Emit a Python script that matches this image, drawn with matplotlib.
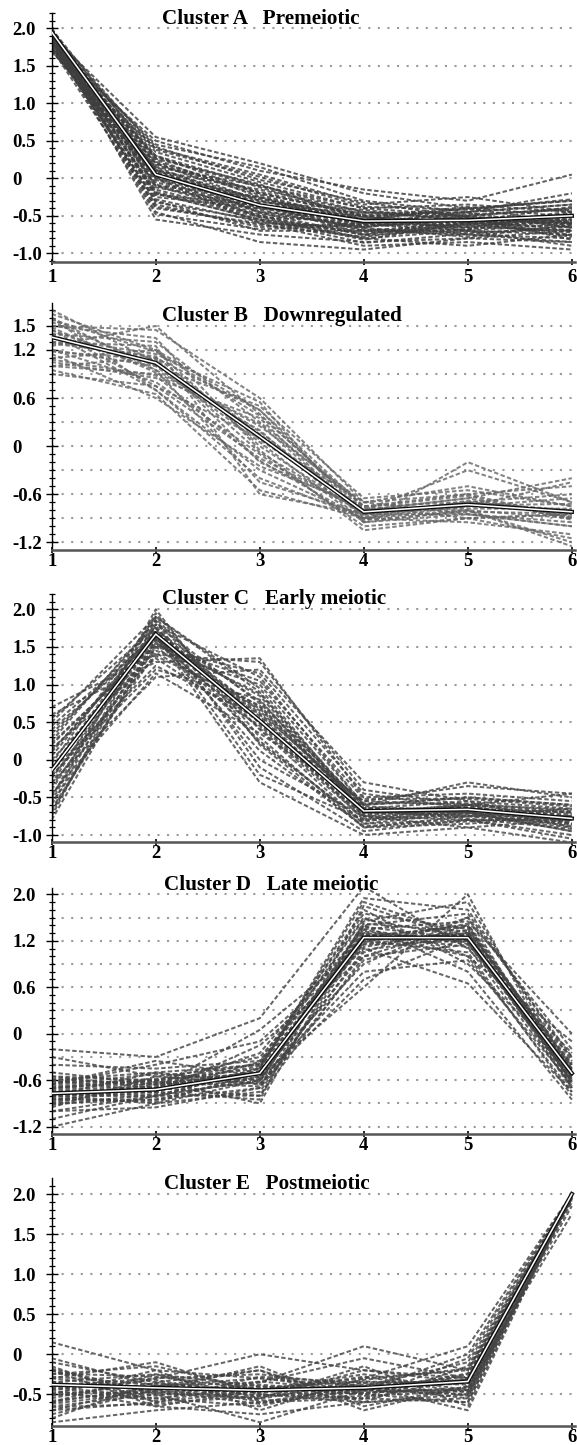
import matplotlib
matplotlib.use("Agg")
import matplotlib.pyplot as plt
from matplotlib.ticker import FixedLocator, FixedFormatter, MultipleLocator

plt.rcParams["font.family"] = ["Liberation Serif", "DejaVu Serif"]
plt.rcParams["font.weight"] = "bold"

# time points (x axis)
stages = [1, 2, 3, 4, 5, 6]

# ---- Cluster A  Premeiotic : individual gene profiles + cluster mean ----
profiles_A = [
    [1.95, 0.30, -0.10, -0.45, -0.50, -0.40],
    [1.90, 0.10, -0.30, -0.60, -0.55, -0.60],
    [1.85, -0.20, -0.55, -0.70, -0.65, -0.70],
    [1.80, 0.45, 0.15, -0.30, -0.45, -0.35],
    [2.00, -0.10, -0.50, -0.80, -0.70, -0.75],
    [1.75, 0.20, -0.20, -0.50, -0.60, -0.55],
    [1.95, -0.40, -0.60, -0.65, -0.55, -0.50],
    [1.70, 0.05, -0.45, -0.55, -0.40, -0.30],
    [1.88, 0.35, -0.05, -0.40, -0.35, -0.45],
    [1.92, -0.55, -0.75, -0.85, -0.80, -0.85],
    [1.80, 0.15, -0.35, -0.75, -0.60, -0.65],
    [1.98, -0.25, -0.40, -0.50, -0.70, -0.60],
    [1.72, 0.50, 0.10, -0.15, -0.30, 0.05],
    [1.85, 0.00, -0.60, -0.90, -0.85, -0.95],
    [1.90, 0.25, -0.25, -0.60, -0.45, -0.20],
    [1.78, -0.30, -0.70, -0.70, -0.75, -0.80],
    [1.96, 0.10, -0.15, -0.45, -0.55, -0.70],
    [1.82, -0.05, -0.45, -0.65, -0.50, -0.40],
    [1.68, 0.40, 0.05, -0.35, -0.25, -0.45],
    [1.94, -0.45, -0.85, -0.95, -0.80, -0.70],
    [1.86, 0.20, -0.30, -0.55, -0.65, -0.50],
    [1.76, -0.15, -0.50, -0.75, -0.55, -0.60],
    [1.90, 0.55, 0.20, -0.20, -0.40, -0.30],
    [1.84, -0.35, -0.65, -0.60, -0.70, -0.90],
    [1.99, 0.00, -0.35, -0.70, -0.60, -0.55],
    [1.74, 0.15, -0.10, -0.40, -0.50, -0.65],
    [1.88, -0.20, -0.55, -0.80, -0.90, -0.75],
    [1.80, 0.30, -0.20, -0.50, -0.45, -0.35],
    [1.93, 0.05, -0.40, -0.60, -0.75, -0.85],
    [1.79, -0.10, -0.25, -0.55, -0.40, -0.60],
    [1.87, 0.12, -0.28, -0.52, -0.58, -0.48],
    [1.83, -0.08, -0.48, -0.62, -0.62, -0.58],
    [1.91, 0.22, -0.18, -0.48, -0.52, -0.62],
    [1.77, -0.28, -0.58, -0.72, -0.68, -0.52],
    [1.95, 0.38, 0.02, -0.38, -0.42, -0.28],
    [1.81, -0.02, -0.42, -0.68, -0.72, -0.68],
    [1.89, 0.18, -0.22, -0.58, -0.48, -0.42],
    [1.73, -0.38, -0.62, -0.78, -0.62, -0.72],
    [1.97, 0.08, -0.32, -0.42, -0.58, -0.78],
    [1.85, -0.18, -0.52, -0.58, -0.66, -0.46],
    [1.79, 0.28, -0.12, -0.52, -0.38, -0.52],
    [1.93, -0.12, -0.38, -0.66, -0.78, -0.62],
    [1.71, 0.02, -0.52, -0.82, -0.58, -0.38],
    [1.87, 0.42, -0.02, -0.32, -0.52, -0.58],
    [1.83, -0.48, -0.68, -0.62, -0.52, -0.82],
    [1.91, 0.12, -0.46, -0.76, -0.68, -0.56],
    [1.75, -0.22, -0.36, -0.46, -0.46, -0.66],
    [1.99, 0.26, -0.08, -0.56, -0.62, -0.44],
    [1.81, 0.04, -0.26, -0.64, -0.54, -0.76],
    [1.89, -0.32, -0.56, -0.86, -0.74, -0.64],
]
mean_A = [1.95, 0.05, -0.36, -0.57, -0.56, -0.50]

# ---- Cluster B  Downregulated ----
profiles_B = [
    [1.65, 1.20, 0.45, -0.85, -0.75, -0.80],
    [1.50, 1.45, 0.60, -0.70, -0.60, -0.90],
    [1.00, 0.90, 0.20, -0.95, -0.85, -1.00],
    [1.30, 1.10, -0.20, -0.80, -0.30, -0.70],
    [0.95, 0.65, -0.55, -0.90, -0.80, -1.25],
    [1.40, 1.30, 0.30, -0.75, -0.70, -0.60],
    [1.20, 0.80, -0.10, -1.00, -0.90, -0.85],
    [1.55, 1.00, 0.50, -0.65, -0.55, -0.75],
    [1.10, 1.20, 0.00, -0.85, -0.75, -0.45],
    [1.60, 0.70, -0.30, -0.90, -0.95, -1.10],
    [1.25, 1.50, 0.40, -0.80, -0.65, -0.90],
    [1.45, 0.95, -0.45, -0.85, -0.70, -0.80],
    [0.90, 0.75, 0.10, -0.70, -0.85, -0.95],
    [1.35, 1.15, 0.55, -0.95, -0.20, -0.70],
    [1.70, 1.05, 0.15, -0.80, -0.80, -1.20],
    [1.15, 0.60, -0.25, -0.75, -0.60, -0.50],
    [1.50, 1.35, -0.05, -1.05, -0.90, -0.85],
    [1.05, 0.85, 0.35, -0.90, -0.75, -0.65],
    [1.30, 1.25, -0.60, -0.85, -0.85, -1.00],
    [1.60, 0.95, 0.25, -0.70, -0.50, -0.75],
    [1.20, 1.00, 0.05, -0.95, -0.80, -0.90],
    [1.45, 0.75, -0.15, -0.80, -0.65, -0.40],
    [1.00, 1.10, 0.45, -0.75, -0.90, -1.15],
    [1.40, 0.70, -0.40, -0.90, -0.70, -0.85],
    [1.38, 1.02, 0.18, -0.82, -0.72, -0.82],
    [1.28, 1.12, 0.08, -0.78, -0.78, -0.78],
    [1.48, 0.92, 0.28, -0.88, -0.68, -0.88],
    [1.18, 1.08, -0.08, -0.84, -0.74, -0.72],
    [1.58, 1.18, 0.38, -0.76, -0.62, -0.92],
    [1.08, 0.88, -0.18, -0.92, -0.82, -0.84],
]
mean_B = [1.36, 1.04, 0.12, -0.82, -0.73, -0.82]

# ---- Cluster C  Early meiotic ----
profiles_C = [
    [-0.80, 1.60, 0.60, -0.70, -0.70, -0.80],
    [0.70, 1.40, 1.30, -0.40, -0.60, -0.70],
    [-0.50, 2.00, 0.20, -0.90, -0.75, -0.90],
    [0.30, 1.80, 1.10, -0.60, -0.50, -0.60],
    [-0.20, 1.20, 0.80, -0.75, -0.80, -1.00],
    [0.10, 1.70, -0.20, -0.80, -0.60, -0.75],
    [-0.65, 1.50, 0.50, -0.55, -0.35, -0.45],
    [0.50, 1.90, 0.90, -0.70, -0.70, -0.85],
    [-0.30, 1.10, 1.20, -0.30, -0.55, -0.65],
    [-0.10, 1.65, -0.30, -1.00, -0.90, -1.10],
    [0.20, 1.55, 0.70, -0.65, -0.65, -0.70],
    [-0.75, 1.85, 0.40, -0.85, -0.80, -0.80],
    [0.60, 1.30, 1.35, -0.50, -0.45, -0.55],
    [-0.40, 1.75, 0.00, -0.75, -0.70, -0.95],
    [0.00, 1.45, 1.00, -0.60, -0.30, -0.50],
    [-0.55, 1.95, 0.30, -0.90, -0.85, -0.75],
    [0.40, 1.60, 0.85, -0.70, -0.60, -0.90],
    [-0.15, 1.25, 0.55, -0.80, -0.75, -0.65],
    [-0.70, 1.70, 0.65, -0.65, -0.55, -0.85],
    [0.25, 1.85, -0.10, -0.95, -0.80, -1.05],
    [-0.35, 1.50, 1.15, -0.45, -0.65, -0.70],
    [0.15, 1.35, 0.45, -0.75, -0.90, -0.80],
    [-0.60, 1.80, 0.75, -0.60, -0.50, -0.60],
    [0.45, 1.65, 0.25, -0.85, -0.70, -0.95],
    [-0.05, 1.90, 0.95, -0.70, -0.75, -0.75],
    [-0.45, 1.15, 0.35, -0.55, -0.60, -0.45],
    [-0.25, 1.62, 0.58, -0.72, -0.62, -0.82],
    [0.05, 1.72, 0.78, -0.62, -0.68, -0.72],
    [-0.48, 1.58, 0.42, -0.78, -0.72, -0.88],
    [0.35, 1.68, 0.62, -0.58, -0.58, -0.68],
    [-0.12, 1.78, 0.22, -0.82, -0.66, -0.78],
    [-0.58, 1.42, 0.68, -0.66, -0.78, -0.92],
    [0.22, 1.52, 1.05, -0.52, -0.52, -0.62],
    [-0.32, 1.88, 0.48, -0.74, -0.64, -0.84],
    [0.12, 1.62, 0.12, -0.88, -0.82, -0.74],
    [-0.68, 1.55, 0.88, -0.64, -0.70, -0.80],
    [0.55, 1.75, 0.52, -0.70, -0.60, -0.66],
    [-0.22, 1.38, 0.72, -0.68, -0.74, -0.86],
]
mean_C = [-0.14, 1.67, 0.52, -0.68, -0.66, -0.78]

# ---- Cluster D  Late meiotic ----
profiles_D = [
    [-1.20, -0.90, -0.60, 1.30, 1.20, -0.60],
    [-0.20, -0.30, 0.20, 1.90, 1.10, -0.30],
    [-0.80, -0.70, -0.80, 1.00, 1.40, -0.50],
    [-0.60, -0.50, -0.40, 1.50, 1.00, -0.10],
    [-0.90, -0.85, -0.55, 0.60, 1.80, -0.70],
    [-0.70, -0.60, -0.30, 1.20, 1.30, -0.40],
    [-1.00, -0.95, -0.70, 1.40, 0.80, -0.85],
    [-0.50, -0.65, -0.50, 0.90, 1.50, -0.20],
    [-0.85, -0.75, -0.85, 1.65, 1.20, -0.55],
    [-0.65, -0.40, -0.10, 1.10, 0.65, -0.75],
    [-0.75, -0.80, -0.45, 1.75, 1.60, -0.35],
    [-0.95, -0.55, -0.65, 0.70, 1.25, -0.60],
    [-0.55, -0.70, -0.25, 1.35, 1.45, 0.00],
    [-0.80, -0.90, -0.75, 1.20, 1.05, -0.80],
    [-0.40, -0.45, -0.35, 1.55, 1.35, -0.45],
    [-1.10, -0.80, -0.60, 0.80, 0.95, -0.65],
    [-0.70, -0.60, -0.90, 1.45, 1.70, -0.50],
    [-0.60, -0.75, -0.15, 1.00, 1.15, -0.25],
    [-0.90, -0.65, -0.50, 1.25, 1.40, -0.70],
    [-0.30, -0.55, -0.40, 1.60, 0.90, -0.40],
    [-0.85, -0.85, -0.70, 0.95, 1.30, -0.55],
    [-0.65, -0.35, -0.55, 1.40, 1.55, -0.30],
    [-0.75, -0.70, 0.05, 1.15, 1.20, -0.60],
    [-1.00, -0.80, -0.80, 1.30, 1.00, -0.75],
    [-0.55, -0.60, -0.45, 1.70, 1.25, -0.45],
    [-0.80, -0.50, -0.65, 1.05, 1.50, -0.65],
    [-0.72, -0.68, -0.48, 1.22, 1.28, -0.52],
    [-0.82, -0.72, -0.58, 1.32, 1.18, -0.62],
    [-0.62, -0.62, -0.38, 1.12, 1.34, -0.42],
    [-0.92, -0.78, -0.62, 1.38, 1.22, -0.58],
    [-0.68, -0.58, -0.52, 1.18, 1.42, -0.48],
    [-0.78, -0.82, -0.44, 1.28, 1.12, -0.68],
    [-0.58, -0.66, -0.56, 1.42, 1.32, -0.38],
    [-0.88, -0.62, -0.68, 1.08, 1.26, -0.62],
    [-0.74, -0.76, -0.36, 1.26, 1.38, -0.52],
    [-0.66, -0.52, -0.60, 1.34, 1.16, -0.46],
    [-0.84, -0.88, -0.50, 1.16, 1.30, -0.72],
    [-0.70, -0.64, -0.42, 1.48, 1.24, -0.56],
]
mean_D = [-0.77, -0.72, -0.51, 1.24, 1.24, -0.51]

# ---- Cluster E  Postmeiotic ----
profiles_E = [
    [0.15, -0.20, -0.30, -0.40, -0.10, 1.95],
    [-0.85, -0.70, -0.60, -0.55, -0.60, 2.00],
    [-0.40, -0.30, 0.00, -0.20, -0.30, 2.00],
    [-0.20, -0.50, -0.85, -0.45, -0.45, 1.90],
    [-0.60, -0.40, -0.35, 0.10, -0.20, 2.00],
    [-0.30, -0.10, -0.50, -0.60, -0.55, 1.98],
    [-0.70, -0.60, -0.45, -0.30, 0.10, 2.00],
    [-0.10, -0.35, -0.20, -0.70, -0.40, 1.75],
    [-0.50, -0.55, -0.65, -0.35, -0.35, 2.00],
    [-0.35, -0.25, -0.40, -0.50, -0.25, 1.97],
    [-0.75, -0.45, -0.55, -0.15, -0.65, 2.00],
    [-0.05, -0.40, -0.30, -0.45, -0.50, 1.95],
    [-0.45, -0.65, -0.75, -0.60, -0.15, 2.00],
    [-0.25, -0.15, -0.45, -0.25, -0.45, 1.85],
    [-0.55, -0.30, -0.25, -0.40, -0.70, 2.00],
    [-0.65, -0.50, -0.50, -0.55, -0.05, 1.99],
    [-0.15, -0.60, -0.35, -0.05, -0.30, 2.00],
    [-0.80, -0.35, -0.60, -0.40, -0.55, 1.96],
    [-0.30, -0.45, -0.15, -0.65, -0.40, 2.00],
    [-0.50, -0.20, -0.70, -0.30, -0.20, 1.92],
    [-0.40, -0.55, -0.40, -0.50, -0.60, 2.00],
    [-0.60, -0.25, -0.55, -0.20, -0.35, 1.98],
    [-0.20, -0.65, -0.45, -0.45, 0.00, 2.00],
    [-0.70, -0.40, -0.20, -0.60, -0.50, 1.94],
    [-0.38, -0.42, -0.48, -0.38, -0.32, 1.98],
    [-0.48, -0.48, -0.38, -0.48, -0.42, 2.00],
    [-0.28, -0.38, -0.52, -0.42, -0.28, 1.96],
    [-0.58, -0.44, -0.42, -0.34, -0.38, 2.00],
    [-0.44, -0.32, -0.58, -0.52, -0.46, 1.99],
    [-0.34, -0.52, -0.34, -0.46, -0.24, 1.97],
    [-0.52, -0.36, -0.46, -0.28, -0.48, 2.00],
    [-0.62, -0.46, -0.62, -0.44, -0.36, 1.95],
    [-0.24, -0.28, -0.44, -0.56, -0.30, 2.00],
    [-0.42, -0.58, -0.28, -0.36, -0.52, 1.98],
    [-0.66, -0.62, -0.52, -0.48, -0.44, 2.00],
    [-0.18, -0.48, -0.56, -0.32, -0.18, 1.96],
]
mean_E = [-0.38, -0.42, -0.45, -0.42, -0.34, 2.00]

titles = ["Cluster A   Premeiotic", "Cluster B   Downregulated",
          "Cluster C   Early meiotic", "Cluster D   Late meiotic",
          "Cluster E   Postmeiotic"]

# labelled y ticks (positions, text) and dotted grid rows per panel
ytick_pos = [[2.0, 1.5, 1.0, 0.5, 0, -0.5, -1.0],
             [1.5, 1.2, 0.6, 0, -0.6, -1.2],
             [2.0, 1.5, 1.0, 0.5, 0, -0.5, -1.0],
             [1.8, 1.2, 0.6, 0, -0.6, -1.2],
             [2.0, 1.5, 1.0, 0.5, 0, -0.5]]
ytick_txt = [["2.0", "1.5", "1.0", "0.5", "0", "-0.5", "-1.0"],
             ["1.5", "1.2", "0.6", "0", "-0.6", "-1.2"],
             ["2.0", "1.5", "1.0", "0.5", "0", "-0.5", "-1.0"],
             ["2.0", "1.2", "0.6", "0", "-0.6", "-1.2"],
             ["2.0", "1.5", "1.0", "0.5", "0", "-0.5"]]
grid_rows = [[2.0, 1.5, 1.0, 0.5, 0, -0.5, -1.0],
             [1.5, 1.2, 0.9, 0.6, 0.3, 0, -0.3, -0.6, -0.9, -1.2],
             [2.0, 1.5, 1.0, 0.5, 0, -0.5, -1.0],
             [1.8, 1.5, 1.2, 0.9, 0.6, 0.3, 0, -0.3, -0.6, -0.9, -1.2],
             [2.0, 1.5, 1.0, 0.5, 0, -0.5]]
ylims = [(-1.112, 2.2), (-1.296, 1.79), (-1.089, 2.204), (-1.294, 1.877), (-0.896, 2.196)]

profiles = [profiles_A, profiles_B, profiles_C, profiles_D, profiles_E]
means = [mean_A, mean_B, mean_C, mean_D, mean_E]

W, H = 577, 1445
fig = plt.figure(figsize=(W / 100, H / 100), dpi=100)

# axes boxes in pixels: (top, bottom)
boxes = [(13.3, 261.7), (302.7, 550), (594, 841.7), (888.3, 1134), (1178.3, 1426)]
title_px = [(162, 24.5), (162, 320.7), (162, 604.3), (164, 890), (164, 1189)]
line_col = ["#3e3e3e", "#666666", "#444444", "#444444", "#444444"]
xlab_pad = [3.5, 0.5, 0.5, 0.5, 0.3]
x0, x1 = 51.7, 575
ylab_left = 12.5  # y tick labels are left-aligned in the reference

for i in range(5):
    top, bot = boxes[i]
    ax = fig.add_axes([x0 / W, 1 - bot / H, (x1 - x0) / W, (bot - top) / H])
    ax.set_xlim(1, 6.03)
    ax.set_ylim(*ylims[i])

    for g in grid_rows[i]:
        ax.axhline(g, color="#9a9a9a", lw=1.5, ls=(0, (1, 3.6)), zorder=0)

    for p in profiles[i]:
        ax.plot(stages, p, color=line_col[i], lw=1.45, alpha=0.82,
                ls=(0, (2.2, 1.2)), zorder=2)

    ax.plot(stages, means[i], color="#111111", lw=3.0, zorder=3,
            solid_joinstyle="miter")
    ax.plot(stages, means[i], color="white", lw=1.1, zorder=4,
            solid_joinstyle="miter")

    for s in ("top", "right"):
        ax.spines[s].set_visible(False)
    ax.spines["left"].set_color("black")
    ax.spines["left"].set_linewidth(1.0)
    ax.spines["bottom"].set_color("#555555")
    ax.spines["bottom"].set_linewidth(1.8)

    ax.yaxis.set_major_locator(FixedLocator(ytick_pos[i]))
    ax.yaxis.set_major_formatter(FixedFormatter(ytick_txt[i]))
    ax.yaxis.set_minor_locator(MultipleLocator(0.1))
    ax.set_xticks(stages)
    ax.set_xticklabels([str(s) for s in stages])

    # pad so the left edge of the y labels sits at ylab_left pixels
    ypad = (x0 - ylab_left) * 72 / 100 - 4
    ax.tick_params(axis="y", which="major", direction="inout", length=8,
                   width=1.0, pad=ypad, labelsize=13.5, colors="black")
    ax.tick_params(axis="y", which="minor", direction="inout", length=5,
                   width=0.9, colors="black")
    ax.tick_params(axis="x", which="major", direction="inout", length=4,
                   width=1.2, pad=xlab_pad[i], labelsize=13.5, colors="black")
    for lab in ax.get_yticklabels():
        lab.set_fontweight("bold")
        lab.set_horizontalalignment("left")
    for lab in ax.get_xticklabels():
        lab.set_fontweight("bold")

    tx, ty = title_px[i]
    fig.text(tx / W, 1 - ty / H, titles[i], ha="left", va="baseline",
             fontsize=15.2, fontweight="bold")

fig.savefig("out.png", dpi=100, facecolor="white")
